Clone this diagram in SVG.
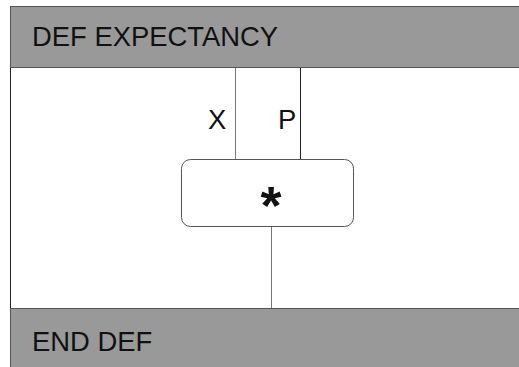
<svg xmlns="http://www.w3.org/2000/svg" width="519" height="367" viewBox="0 0 519 367">
<style>
.bar{fill:#999999;stroke:#555555;stroke-width:1}
.t{font-family:"Liberation Sans",Arial,sans-serif;font-size:27.4px;fill:#111111}
.w{stroke:#777777;stroke-width:1;fill:none}
.wd{stroke:#222222;stroke-width:1;fill:none}
</style>
<rect x="0" y="0" width="519" height="367" fill="#ffffff"/>
<line x1="10.5" y1="6" x2="10.5" y2="367" stroke="#222222" stroke-width="1"/>
<g id="def-header">
<rect class="bar" x="10.5" y="6.5" width="520" height="61"/>
<text class="t" x="32" y="46">DEF EXPECTANCY</text>
</g>
<g id="end-footer">
<rect class="bar" x="10.5" y="308.5" width="520" height="70"/>
<text class="t" x="32" y="351">END DEF</text>
</g>
<g id="connectors">
<line class="w" x1="235.5" y1="68" x2="235.5" y2="159"/>
<line class="wd" x1="300.5" y1="68" x2="300.5" y2="159"/>
<line class="w" x1="271.5" y1="227" x2="271.5" y2="308"/>
<text class="t" x="208" y="129">X</text>
<text class="t" x="278" y="129">P</text>
</g>
<g id="multiply">
<rect x="181.5" y="159.5" width="172" height="67" rx="9" fill="#ffffff" stroke="#555555" stroke-width="1"/>
<text x="271" y="224" text-anchor="middle" font-family="Liberation Sans,Arial,sans-serif" font-weight="bold" font-size="54" fill="#111111">*</text>
</g>
</svg>
